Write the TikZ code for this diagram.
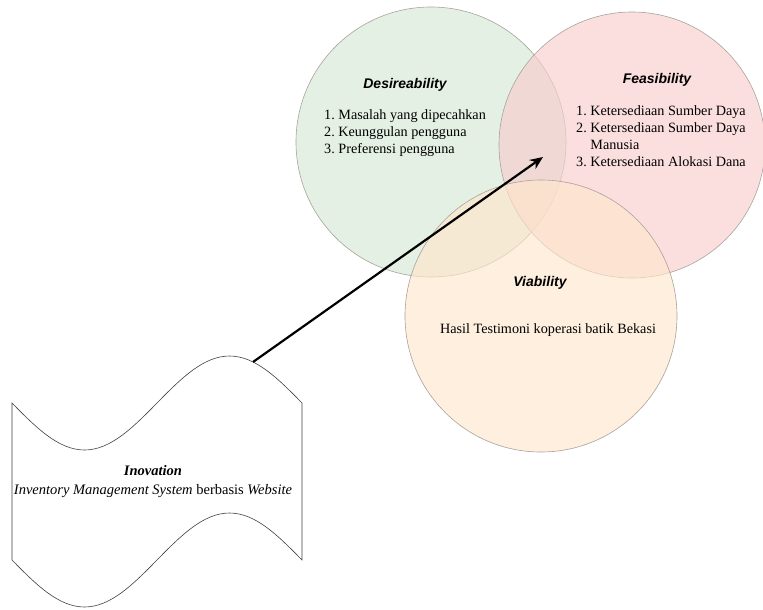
\documentclass[tikz,border=0pt]{standalone}
\usepackage{fontspec}
\setmainfont{Liberation Serif}
\newfontfamily\titlefont{Liberation Sans}
\usetikzlibrary{arrows.meta}
\definecolor{desfill}{HTML}{D5E8D4}
\definecolor{feafill}{HTML}{F8CECC}
\definecolor{viafill}{HTML}{FFE6CC}
\definecolor{ringline}{HTML}{A8A39C}
\tikzset{
  ring/.style={shape=circle, draw=ringline, line width=0.6pt, fill opacity=0.65, minimum size=#1, inner sep=0pt},
  ringtitle/.style={font=\titlefont\fontsize{14}{16}\selectfont\bfseries\itshape},
  ringlist/.style={font=\fontsize{14.2}{17}\selectfont, inner sep=0pt},
  bigarrow/.style={-{Stealth[length=13pt,width=11pt]}, line width=2.2pt}
}
\begin{document}
\begin{tikzpicture}[x=1pt,y=-1pt]
\useasboundingbox (0,0) rectangle (763,610);
% three circles
\node[ring=270pt, fill=desfill] (des) at (431,142) {};
\node[ring=266pt, fill=feafill] (fea) at (632,145) {};
\node[ring=272pt, fill=viafill] (via) at (541,316) {};
% texts in the circles
\node[ringtitle] (destitle) at (405,85) {Desireability};
\node[ringlist, anchor=west] (deslist) at (324,133) {\begin{tabular}{@{}r@{~}l@{}}
1. & Masalah yang dipecahkan\\
2. & Keunggulan pengguna\\
3. & Preferensi pengguna
\end{tabular}};
\node[ringtitle] (featitle) at (657,80) {Feasibility};
\node[ringlist, anchor=west] (fealist) at (576,137.5) {\begin{tabular}{@{}r@{~}l@{}}
1. & Ketersediaan Sumber Daya\\
2. & Ketersediaan Sumber Daya\\
   & Manusia\\
3. & Ketersediaan Alokasi Dana
\end{tabular}};
\node[ringtitle] (viatitle) at (540,283) {Viability};
\node[ringlist] (viatext) at (548,330) {Hasil Testimoni koperasi batik Bekasi};
% tape shape
\draw[line width=0.6pt, draw=black!75] (12,403) sin (84.5,450) cos (157,403) sin (229.5,356) cos (302,403)
  -- (302,560) sin (229.5,513) cos (157,560) sin (84.5,607) cos (12,560) -- cycle;
\node[align=center, font=\fontsize{14.5}{19}\selectfont, inner sep=0pt] (inov) at (153,482)
  {\textbf{\textit{Inovation}}\\\textit{Inventory Management System} berbasis \textit{Website}};
\coordinate (tapetop) at (253,362);
\coordinate (arrtip) at (543,157);
\draw[bigarrow] (tapetop) -- (arrtip);
\end{tikzpicture}
\end{document}
